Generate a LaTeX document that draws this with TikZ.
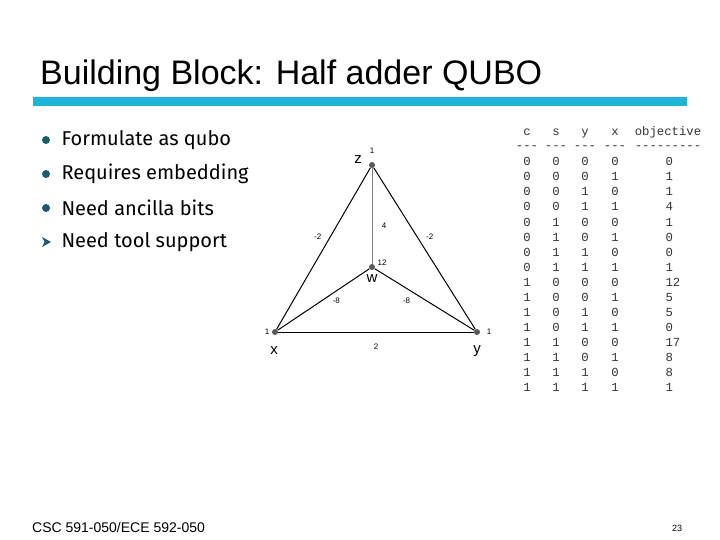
\documentclass[tikz,border=0pt]{standalone}
\usepackage{fontspec}
\setmainfont{Liberation Sans}
\newfontfamily\bulletfont{Fira Sans}
\newfontfamily\tablefont{Liberation Mono}
\usetikzlibrary{arrows.meta}
\definecolor{barblue}{RGB}{30,180,215}
\definecolor{dotteal}{RGB}{30,90,110}
\tikzset{
  vert/.style={circle,fill=gray!70!black,inner sep=0pt,minimum size=6pt},
  wlab/.style={font=\fontsize{8}{9}\selectfont,text=black},
  vlab/.style={font=\fontsize{15}{16}\selectfont},
  edge/.style={line width=1pt},
  bul/.style={anchor=west,font=\bulletfont\fontsize{20}{22}\selectfont},
  cell/.style={anchor=base,font=\tablefont\fontsize{12.3}{13}\selectfont,text=black!80}
}
\begin{document}
\begin{tikzpicture}[x=1pt,y=-1pt]  % ------ half adder slide --------------
    \useasboundingbox (0,0) rectangle (720,540);
    \fill[white] (0,0) rectangle (720,540);

    \node[anchor=base west,inner sep=0pt,font=\fontsize{34}{36}\selectfont] (title) at (40,85) {Building Block: Half adder QUBO};
    \fill[barblue] (33,97) rectangle (687,106);

    % bullets
    \foreach \t/\yy [count=\i] in {Formulate as qubo/140,Requires embedding/174,Need ancilla bits/208} {
      \fill[dotteal] (46,\yy) circle (4pt);
      \node[bul] (b\i) at (58,\yy) {\t};
    }
    \fill[dotteal] (42,237) -- (51,242) -- (42,247) -- (44.5,242) -- cycle;
    \node[bul] (b4) at (58,242) {Need tool support};

    % graph
    \node[vert] (z) at (372,165) {};
    \node[vert] (w) at (372,267) {};
    \node[vert] (x) at (275,332) {};
    \node[vert] (y) at (477,332) {};
    \draw[edge] (x) -- node[wlab,pos=.57,left=5pt] {-2} (z);
    \draw[edge] (y) -- node[wlab,pos=.57,right=5pt] {-2} (z);
    \draw[edge,gray] (w) -- node[wlab,pos=.4,right=6pt] {4} (z);
    \draw[edge] (x) -- node[wlab,pos=.64,yshift=-10pt] {-8} (w);
    \draw[edge] (y) -- node[wlab,pos=.68,yshift=-12pt] {-8} (w);
    \draw[edge] (x) -- node[wlab,below=8pt] {2} (y);
    \node[wlab] (zb) at (372,151) {1};
    \node[vlab] (zl) at (358,160) {z};
    \node[wlab] (wb) at (382,263) {12};
    \node[vlab] (wl) at (372,279) {w};
    \node[wlab] (xb) at (267,332) {1};
    \node[vlab] (xl) at (274,351) {x};
    \node[wlab] (yb) at (489,332) {1};
    \node[vlab] (yl) at (477,351) {y};

    % truth table
    \foreach \h/\xx in {c/527,s/556,y/585,x/615} {
      \node[cell] at (\xx,136) {\h};
      \node[cell] at (\xx,150) {---};
    }
    \node[cell] at (668,136) {objective};
    \node[cell] at (668,150) {---------};
    \foreach \c/\s/\b/\a/\o [count=\r from 0] in {0/0/0/0/0,0/0/0/1/1,0/0/1/0/1,0/0/1/1/4,0/1/0/0/1,0/1/0/1/0,0/1/1/0/0,0/1/1/1/1,1/0/0/0/12,1/0/0/1/5,1/0/1/0/5,1/0/1/1/0,1/1/0/0/17,1/1/0/1/8,1/1/1/0/8,1/1/1/1/1} {
      \node[cell] at (527,166+15*\r) {\c};
      \node[cell] at (556,166+15*\r) {\s};
      \node[cell] at (585,166+15*\r) {\b};
      \node[cell] at (615,166+15*\r) {\a};
      \node[cell,anchor=base west] at (662,166+15*\r) {\o};
    }

    \node[anchor=base west,inner sep=0pt,font=\fontsize{14}{16}\selectfont] (foot) at (32,532) {CSC 591-050/ECE 592-050};
    \node[font=\fontsize{9}{10}\selectfont] (page) at (677,528) {23};
\end{tikzpicture}
\end{document}
